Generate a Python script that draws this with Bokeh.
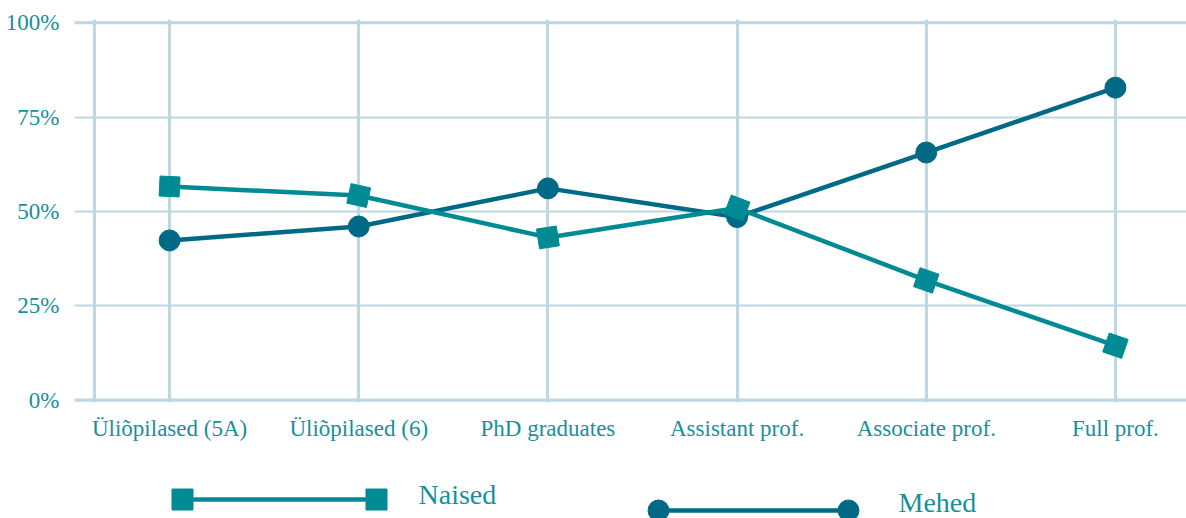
import math
from bokeh.plotting import figure
from bokeh.models import Range1d, FixedTicker, Span, ColumnDataSource
from bokeh.layouts import column
from bokeh.embed import file_html
from bokeh.resources import INLINE
from bokeh.core.properties import value

# ---- data ----
categories = ["Üliõpilased (5A)", "Üliõpilased (6)", "PhD graduates",
              "Assistant prof.", "Associate prof.", "Full prof."]
naised = [56.6, 54.2, 43.1, 50.9, 31.7, 14.4]
mehed = [42.3, 46.0, 56.1, 48.5, 65.6, 82.8]
y_ticks = [0, 25, 50, 75, 100]
y_tick_labels = ["0%", "25%", "50%", "75%", "100%"]
series_names = ["Naised", "Mehed"]

# ---- style ----
FONT = "Liberation Serif"
TEXT_C = "#17909A"
GRID_C = "#BCD8E3"
NAISED_C = "#008B94"
MEHED_C = "#006A86"

W = 1186
LEFT = 74
X_START, X_END = -0.5026, 5.3757
Y_START, Y_END = -0.66, 100.87
FRAME_W = W - LEFT
FRAME_H = 383
PX_X = FRAME_W / (X_END - X_START)
PX_Y = FRAME_H / (Y_END - Y_START)

xs = list(range(len(categories)))

p = figure(width=W, height=450, output_backend="svg", toolbar_location=None,
           x_range=Range1d(X_START, X_END), y_range=Range1d(Y_START, Y_END),
           min_border_left=LEFT, min_border_right=0, min_border_top=19,
           min_border_bottom=48)
p.outline_line_color = None
p.background_fill_color = "white"
p.border_fill_color = "white"

# grids
p.xgrid.ticker = FixedTicker(ticks=xs)
p.xgrid.grid_line_color = GRID_C
p.xgrid.grid_line_width = 3
p.ygrid.ticker = FixedTicker(ticks=y_ticks)
p.ygrid.grid_line_color = GRID_C
p.ygrid.grid_line_width = 2
for yv in (y_ticks[0], y_ticks[-1]):
    p.add_layout(Span(location=yv, dimension="width", line_color=GRID_C, line_width=3))
p.add_layout(Span(location=-0.397, dimension="height", line_color=GRID_C, line_width=3))

# axes
p.xaxis.ticker = FixedTicker(ticks=xs)
p.xaxis.major_label_overrides = {i: c for i, c in zip(xs, categories)}
p.yaxis.ticker = FixedTicker(ticks=y_ticks)
p.yaxis.major_label_overrides = {t: l for t, l in zip(y_ticks, y_tick_labels)}
for ax in (p.xaxis, p.yaxis):
    ax.axis_line_color = None
    ax.major_tick_line_color = None
    ax.minor_tick_line_color = None
    ax.major_label_text_font = FONT
    ax.major_label_text_font_size = "23px"
    ax.major_label_text_color = TEXT_C
p.xaxis.major_label_standoff = 7
p.yaxis.major_label_standoff = 9


def seg_angles(vals):
    out = []
    n = len(vals)
    for i in range(n):
        a, b = (i, i + 1) if i < n - 1 else (i - 1, i)
        out.append(math.atan2((vals[b] - vals[a]) * PX_Y, (b - a) * PX_X))
    return out


src_m = ColumnDataSource(dict(x=xs, y=mehed))
src_n = ColumnDataSource(dict(x=xs, y=naised, angle=seg_angles(naised)))

p.line("x", "y", source=src_m, line_color=MEHED_C, line_width=4.5)
p.scatter("x", "y", source=src_m, marker="circle", size=21,
          fill_color=MEHED_C, line_color=MEHED_C)
p.line("x", "y", source=src_n, line_color=NAISED_C, line_width=4.5)
p.scatter("x", "y", source=src_n, marker="square", size=20, angle="angle",
          fill_color=NAISED_C, line_color=NAISED_C)

# ---- legend strip (coordinates are screen pixels) ----
lg = figure(width=W, height=68, output_backend="svg", toolbar_location=None,
            x_range=Range1d(LEFT, W), y_range=Range1d(518, 450),
            min_border_left=LEFT, min_border_right=0, min_border_top=0,
            min_border_bottom=0)
lg.outline_line_color = None
lg.axis.visible = False
lg.grid.visible = False

leg_n = ColumnDataSource(dict(x=[182, 376], y=[499, 499]))
lg.line("x", "y", source=leg_n, line_color=NAISED_C, line_width=4.5)
lg.scatter("x", "y", source=leg_n, marker="square", size=21,
           fill_color=NAISED_C, line_color=NAISED_C)
lg.text(x=[418], y=[494], text=[series_names[0]], text_font=value(FONT),
        text_font_size="28px", text_color=TEXT_C, text_baseline="middle")

leg_m = ColumnDataSource(dict(x=[658, 848], y=[510, 510]))
lg.line("x", "y", source=leg_m, line_color=MEHED_C, line_width=4.5)
lg.scatter("x", "y", source=leg_m, marker="circle", size=21,
           fill_color=MEHED_C, line_color=MEHED_C)
lg.text(x=[898], y=[502], text=[series_names[1]], text_font=value(FONT),
        text_font_size="28px", text_color=TEXT_C, text_baseline="middle")

layout = column(p, lg, spacing=0)
open("out.html", "w").write(file_html(layout, INLINE))
